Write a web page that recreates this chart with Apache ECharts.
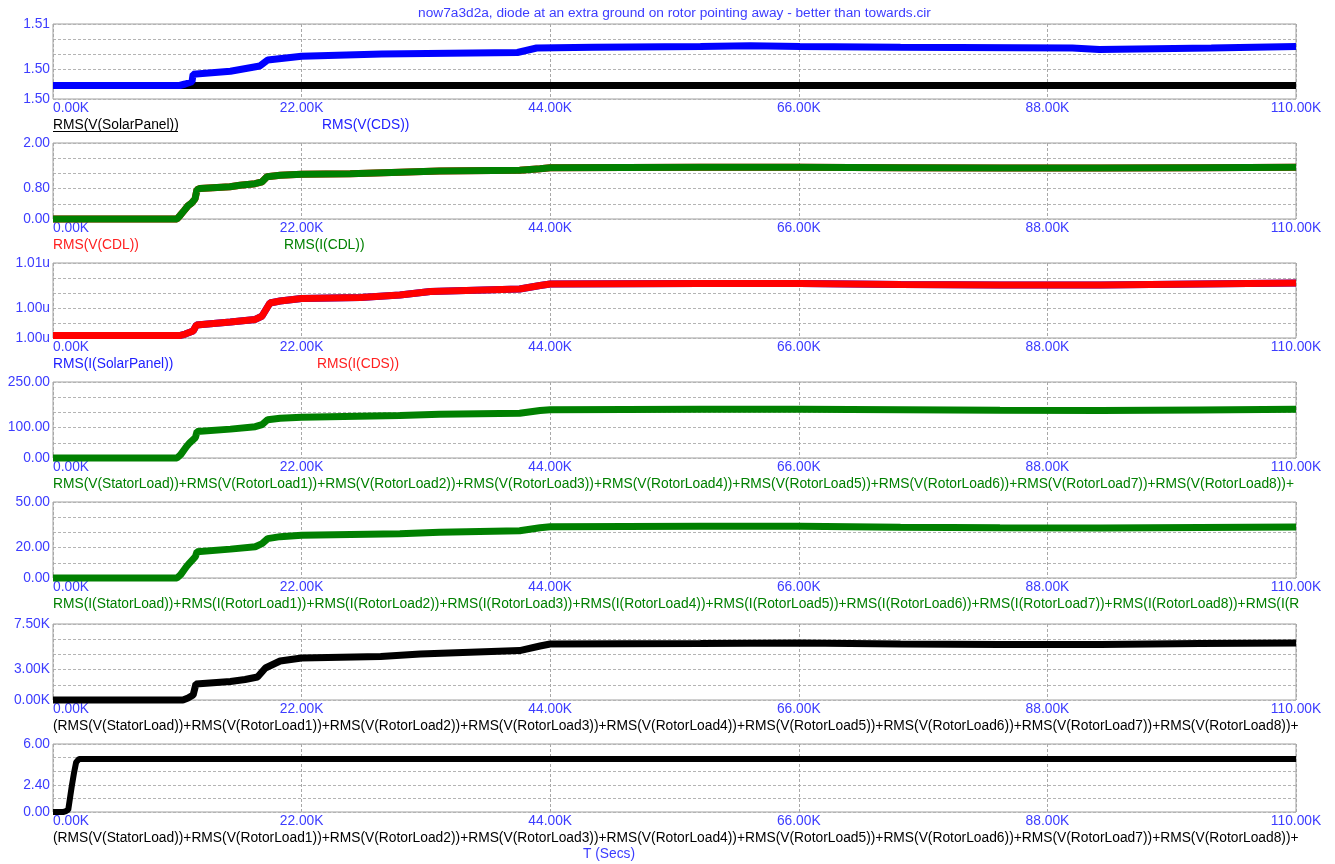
<!DOCTYPE html>
<html><head><meta charset="utf-8">
<script src="https://cdn.jsdelivr.net/npm/echarts@6/dist/echarts.min.js"></script>
<style>html,body{margin:0;padding:0;background:#fff}#c{width:1335px;height:864px}</style>
</head><body><div id="c"></div><script>
// ---- data (time in K seconds) ----
var xTicksK = [0, 22, 44, 66, 88, 110];

var p1SolarT = [0, 110];
var p1SolarV = [1.5018, 1.5018];
var p1CdsT = [0, 11.2, 11.7, 12.3, 12.4, 15.7, 18.3, 19.0, 22.0, 29.1, 41.1, 42.8, 47.8, 57.3, 61.7, 66.1, 75.0, 90.2, 90.3, 92.6, 92.7, 102.5, 102.6, 110];
var p1CdsV = [1.5018, 1.5018, 1.5020, 1.5023, 1.5033, 1.5037, 1.5044, 1.5052, 1.5057, 1.5060, 1.5062, 1.5068, 1.5069, 1.5070, 1.5071, 1.5070, 1.5069, 1.5068, 1.5066, 1.5066, 1.5068, 1.5068, 1.5070, 1.5070];

var p2T = [0, 10.97, 11.24, 11.6, 11.95, 12.3, 12.57, 12.74, 13.0, 15.66, 16.55, 17.88, 18.5, 18.94, 20.1, 22.0, 26.3, 30.7, 34.2, 41.3, 43.1, 44.0, 57.3, 66.1, 75.0, 83.8, 92.7, 101.5, 110];
var p2CdlV = [0, 0, 0.09, 0.22, 0.35, 0.43, 0.53, 0.77, 0.80, 0.85, 0.89, 0.93, 0.98, 1.11, 1.15, 1.18, 1.19, 1.23, 1.26, 1.28, 1.32, 1.35, 1.36, 1.36, 1.35, 1.34, 1.34, 1.35, 1.36];

var p3T = [0, 11.2, 11.7, 12.4, 12.7, 15.7, 17.9, 18.5, 19.2, 20.1, 22.0, 27.2, 30.7, 33.4, 41.3, 43.1, 44.0, 57.3, 66.1, 75.0, 83.8, 92.7, 101.5, 110];
var p3CdsV = [1.00033, 1.00033, 1.00053, 1.00093, 1.00173, 1.00213, 1.00247, 1.00293, 1.00467, 1.00493, 1.00527, 1.0054, 1.00573, 1.0062, 1.00653, 1.007, 1.0072, 1.00727, 1.00727, 1.00713, 1.00707, 1.00707, 1.0072, 1.00733];

var p4T = [0, 10.97, 11.3, 11.8, 12.1, 12.6, 12.75, 15.7, 17.9, 18.5, 19.0, 20.1, 22.0, 30.7, 34.2, 41.3, 43.1, 44.0, 57.3, 66.1, 75.0, 83.8, 92.7, 101.5, 110];
var p4V = [0, 0, 11, 37, 50, 67, 87, 95, 103, 110, 126, 131, 134, 140, 144, 147, 156, 159, 160, 160, 159, 157, 156, 158, 160];

var p5T = [0, 10.97, 11.3, 11.8, 12.1, 12.6, 12.75, 15.7, 17.9, 18.5, 19.0, 20.1, 22.0, 30.7, 34.2, 41.3, 43.1, 44.0, 57.3, 66.1, 75.0, 83.8, 92.7, 101.5, 110];
var p5V = [0, 0, 2.2, 7.4, 10, 14, 17.3, 19, 20.6, 22.6, 25.9, 27.2, 28.2, 29.1, 30.1, 31.1, 33.1, 33.7, 34.0, 34.0, 33.4, 33.1, 32.9, 33.3, 33.6];

var p6T = [0, 11.5, 11.95, 12.4, 12.65, 15.7, 17.0, 18.1, 18.8, 20.1, 22.0, 29.0, 32.5, 41.3, 43.1, 44.0, 57.3, 66.1, 75.0, 83.8, 92.7, 101.5, 110];
var p6V = [0, 0, 0.2, 0.49, 1.58, 1.83, 2.02, 2.27, 3.16, 3.85, 4.14, 4.29, 4.54, 4.88, 5.33, 5.53, 5.58, 5.63, 5.53, 5.48, 5.48, 5.58, 5.63];

var p7T = [0, 0.9, 1.1, 1.35, 1.5, 1.65, 1.85, 2.05, 2.3, 110];
var p7V = [0, 0, 0.05, 0.2, 1.2, 2.2, 3.4, 4.4, 4.68, 4.68];

var titleText = 'now7a3d2a, diode at an extra ground on rotor pointing away - better than towards.cir';
var xAxisName = 'T (Secs)';
var loadsV = 'RMS(V(StatorLoad))+RMS(V(RotorLoad1))+RMS(V(RotorLoad2))+RMS(V(RotorLoad3))+RMS(V(RotorLoad4))+RMS(V(RotorLoad5))+RMS(V(RotorLoad6))+RMS(V(RotorLoad7))+RMS(V(RotorLoad8))+RMS(V(RotorLoad9))';
var loadsI = 'RMS(I(StatorLoad))+RMS(I(RotorLoad1))+RMS(I(RotorLoad2))+RMS(I(RotorLoad3))+RMS(I(RotorLoad4))+RMS(I(RotorLoad5))+RMS(I(RotorLoad6))+RMS(I(RotorLoad7))+RMS(I(RotorLoad8))+RMS(I(RotorLoad9))';

function pairs(t, v) { return t.map(function (x, i) { return [x, v[i]]; }); }

var BLUE = '#0000ff', GREEN = '#008000', RED = '#ff0000', BLACK = '#000000';
var LBL = '#3c3cff';
var FONT = '"Liberation Sans", Arial, sans-serif';

var L = 53, R = 1296;
var tops = [24, 143, 263, 382, 502, 624, 744];
var heights = [75, 76, 75, 76, 76, 76, 68];
var yCfg = [
  {min: 1.500, max: 1.510, interval: 0.002, fmt: function (v) { return v.toFixed(2); }},
  {min: 0, max: 2, interval: 0.4, fmt: function (v) { return v.toFixed(2); }},
  {min: 1.000, max: 1.010, interval: 0.002, fmt: function (v) { return v.toFixed(2) + 'u'; }},
  {min: 0, max: 250, interval: 50, fmt: function (v) { return v.toFixed(2); }},
  {min: 0, max: 50, interval: 10, fmt: function (v) { return v.toFixed(2); }},
  {min: 0, max: 7.5, interval: 1.5, fmt: function (v) { return v.toFixed(2) + 'K'; }},
  {min: 0, max: 6, interval: 1.2, fmt: function (v) { return v.toFixed(2); }}
];

var legends = [
  [{t: 'RMS(V(SolarPanel))', x: 53, c: BLACK, u: true}, {t: 'RMS(V(CDS))', x: 322, c: '#2020ff'}],
  [{t: 'RMS(V(CDL))', x: 53, c: '#ff2020'}, {t: 'RMS(I(CDL))', x: 284, c: GREEN}],
  [{t: 'RMS(I(SolarPanel))', x: 53, c: '#2020ff'}, {t: 'RMS(I(CDS))', x: 317, c: '#ff2020'}],
  [{t: loadsV, x: 53, c: GREEN}],
  [{t: loadsI, x: 53, c: GREEN}],
  [{t: '(' + loadsV + ')', x: 53, c: BLACK}],
  [{t: '(' + loadsV + ')', x: 53, c: BLACK}]
];

var grids = [], xAxes = [], yAxes = [], series = [], graphics = [];
for (var i = 0; i < 7; i++) {
  grids.push({left: L, width: R - L, top: tops[i], height: heights[i], show: true, borderColor: '#a0a0a0', borderWidth: 1, containLabel: false});
  xAxes.push({
    type: 'value', gridIndex: i, min: xTicksK[0], max: xTicksK[xTicksK.length - 1], interval: xTicksK[1] - xTicksK[0],
    axisLine: {show: false}, axisTick: {show: false},
    splitLine: {show: true, lineStyle: {color: '#a8a8a8', type: [3, 2], width: 1}},
    axisLabel: {color: LBL, fontFamily: FONT, fontSize: 13.8, margin: 2, alignMinLabel: 'left',
      formatter: function (v) { return v.toFixed(2) + 'K'; }}
  });
  (function (cfg) {
    yAxes.push({
      type: 'value', gridIndex: i, min: cfg.min, max: cfg.max, interval: cfg.interval,
      axisLine: {show: false}, axisTick: {show: false},
      splitLine: {show: true, lineStyle: {color: '#b4b4b4', type: [3, 2], width: 1}},
      axisLabel: {color: LBL, fontFamily: FONT, fontSize: 13.8, margin: 3,
        formatter: function (v, idx) { return (idx === 0 || idx === 2 || idx === 5) ? cfg.fmt(v) : ''; }}
    });
  })(yCfg[i]);
  var bottom = tops[i] + heights[i];
  legends[i].forEach(function (lg) {
    graphics.push({type: 'text', left: lg.x, top: bottom + 19, silent: true,
      style: {text: lg.t, fill: lg.c, font: '13.8px ' + FONT, width: R - lg.x + 7, overflow: 'truncate', ellipsis: ''}});
    if (lg.u) {
      graphics.push({type: 'line', silent: true, shape: {x1: lg.x, y1: bottom + 32.5, x2: lg.x + 125, y2: bottom + 32.5},
        style: {stroke: lg.c, lineWidth: 1}});
    }
  });
}

function line(idx, name, color, t, v, w) {
  return {type: 'line', name: name, xAxisIndex: idx, yAxisIndex: idx, data: pairs(t, v), showSymbol: false, symbol: 'none',
    clip: false, animation: false, lineStyle: {color: color, width: w || 7, join: 'bevel'}, itemStyle: {color: color}};
}
series.push(line(0, 'RMS(V(SolarPanel))', BLACK, p1SolarT, p1SolarV, 7));
series.push(line(0, 'RMS(V(CDS))', BLUE, p1CdsT, p1CdsV, 7));
series.push(line(1, 'RMS(V(CDL))', RED, p2T, p2CdlV, 7));
series.push(line(1, 'RMS(I(CDL))', GREEN, p2T, p2CdlV, 7));
series.push(line(2, 'RMS(I(SolarPanel))', BLUE, p3T, p3CdsV, 7));
series.push(line(2, 'RMS(I(CDS))', RED, p3T, p3CdsV, 7));
series.push(line(3, 'loadsV', GREEN, p4T, p4V, 7));
series.push(line(4, 'loadsI', GREEN, p5T, p5V, 7));
series.push(line(5, 'power', BLACK, p6T, p6V, 7));
series.push(line(6, 'ratio', BLACK, p7T, p7V, 6));

graphics.push({type: 'text', x: (L + R) / 2, y: 13, silent: true,
  style: {text: titleText, fill: LBL, font: '13.7px ' + FONT, textAlign: 'center', textVerticalAlign: 'middle'}});
graphics.push({type: 'text', x: 609, y: 854, silent: true,
  style: {text: xAxisName, fill: LBL, font: '13.8px ' + FONT, textAlign: 'center', textVerticalAlign: 'middle'}});

var chart = echarts.init(document.getElementById('c'), null, {renderer: 'canvas'});
chart.setOption({animation: false, backgroundColor: '#ffffff', grid: grids, xAxis: xAxes, yAxis: yAxes, series: series, graphic: graphics});
</script></body></html>
